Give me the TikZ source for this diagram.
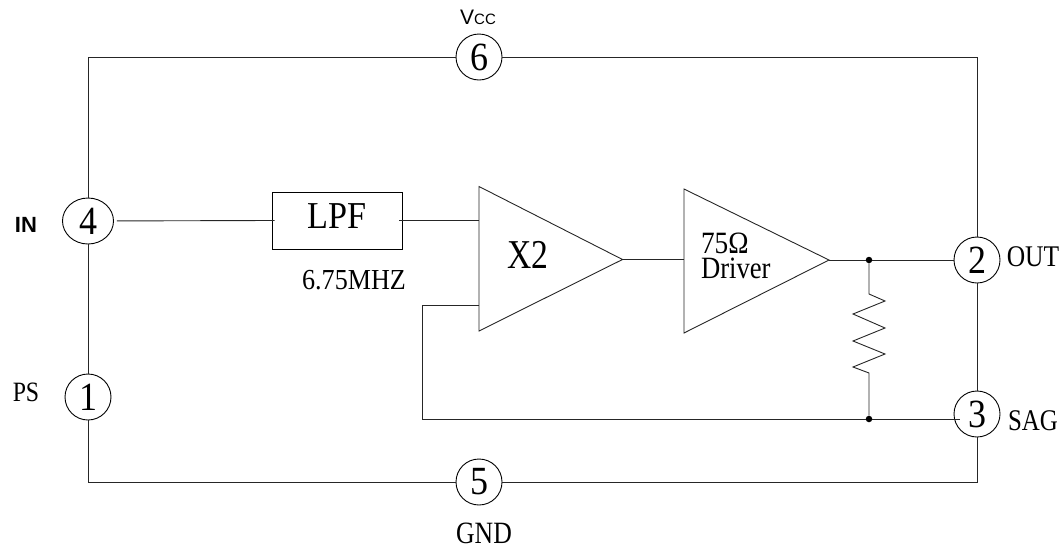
\documentclass[tikz,border=0pt]{standalone}
\usepackage{fontspec}
\setmainfont{Liberation Serif}
\newfontfamily\lbsans{Liberation Sans}
\usetikzlibrary{shapes.geometric}
\newcommand{\sq}[2]{\scalebox{#1}[1]{#2}}
\tikzset{
  x=1pt,y=-1pt,
  wire/.style={line width=0.9pt,color=black!85},
  pinring/.style={draw,line width=0.9pt,circle,minimum size=46pt,inner sep=0pt,font=\fontsize{40}{40}\selectfont},
  pinoval/.style={draw,line width=0.9pt,ellipse,minimum width=51pt,minimum height=46pt,inner sep=0pt,font=\fontsize{40}{40}\selectfont},
  lbl/.style={inner sep=0pt,outer sep=0pt},
  blockbox/.style={draw,line width=0.9pt,inner sep=0pt,minimum width=130pt,minimum height=57pt,font=\fontsize{38}{38}\selectfont},
  dotj/.style={circle,fill=black,inner sep=0pt,minimum size=6.5pt},
}
\begin{document}
\begin{tikzpicture}
\useasboundingbox (0,0) rectangle (1061,547);
% corners and free points
\coordinate (tl) at (88,57);
\coordinate (tr) at (977,57);
\coordinate (bl) at (88,482);
\coordinate (br) at (977,482);
% triangles
\coordinate (xa) at (479,186.5);
\coordinate (xb) at (479,331);
\coordinate (xt) at (622.5,259.5);
\coordinate (xin) at (479,220.5);
\coordinate (xfb) at (479,305.5);
\coordinate (da) at (684,189);
\coordinate (db) at (684,333);
\coordinate (dt) at (829,260);
\coordinate (din) at (684,260);
\coordinate (fa) at (422,305.5);
\coordinate (fb) at (422,419);
% pins
\node[pinring] (p6) at (479,57) {\sq{.9}{6}};
\node[pinring] (p5) at (479,482) {\sq{.9}{5}};
\node[pinoval] (p4) at (88,221) {\sq{.9}{4}};
\node[pinring] (p1) at (88,397) {\sq{.9}{1}};
\node[pinring] (p2) at (977,260) {\sq{.9}{2}};
\node[pinring] (p3) at (977,414) {\sq{.9}{3}};
% block
\node[blockbox] (lpf) at (337,220.5) {};
\node[lbl,font=\fontsize{38}{38}\selectfont] (lpft) at (337,216) {\sq{.9}{LPF}};
% triangles drawn
\draw[wire,line join=miter] (xa) -- (xt) -- (xb) -- cycle;
\draw[wire,line join=miter] (da) -- (dt) -- (db) -- cycle;
% junctions
\node[dotj] (j1) at (869,260) {};
\node[dotj] (j2) at (869,419) {};
% outer frame
\draw[wire] (p6) -- (tl) -- (p4);
\draw[wire] (p6) -- (tr) -- (p2);
\draw[wire] (p4) -- (p1);
\draw[wire] (p1) -- (bl) -- (p5);
\draw[wire] (p5) -- (br) -- (p3);
\draw[wire] (p2) -- (p3);
% signal path
\draw[wire,shorten <=3pt,shorten >=-3pt] (p4) -- (lpf.west);
\draw[wire,shorten <=-3pt] (lpf.east) -- (xin);
\draw[wire] (xt) -- (din |- xt);
\draw[wire] (dt) -- (j1) -- (p2);
\draw[wire] (xfb) -- (fa) -- (fb) -- (j2);
\draw[wire] (j2) -- (p3.south west |- j2);
% resistor
\draw[wire,line join=miter] (j1) -- (869,294) -- (885,301) -- (853,314) -- (885,328) -- (853,341) -- (885,354) -- (853,367) -- (869,373) -- (j2);
% labels
\node[lbl,font=\fontsize{41}{41}\selectfont] (x2) at (528,254.5) {\sq{.82}{X2}};
\node[lbl,font=\fontsize{31}{31}\selectfont,anchor=west] (ohm) at (701,243) {\sq{.88}{75Ω}};
\node[lbl,font=\fontsize{31}{31}\selectfont,anchor=west] (drv) at (701,268) {\sq{.86}{Driver}};
\node[lbl,font=\fontsize{29}{29}\selectfont] (mhz) at (354,280) {\sq{.9}{6.75MHZ}};
\node[lbl,font=\fontsize{28}{28}\selectfont] (ps) at (26,392) {\sq{.85}{PS}};
\node[lbl,font=\fontsize{30}{30}\selectfont] (out) at (1033,257) {\sq{.85}{OUT}};
\node[lbl,font=\fontsize{30}{30}\selectfont] (sag) at (1033,421) {\sq{.83}{SAG}};
\node[lbl,font=\fontsize{31}{31}\selectfont] (gnd) at (484,533.5) {\sq{.83}{GND}};
\node[lbl,font=\lbsans\bfseries\fontsize{22}{22}\selectfont] (in) at (26,225) {IN};
\node[lbl,font=\lbsans\fontsize{21}{21}\selectfont] (vcc) at (478,17) {V{\fontsize{15}{15}\selectfont CC}};
\end{tikzpicture}
\end{document}
